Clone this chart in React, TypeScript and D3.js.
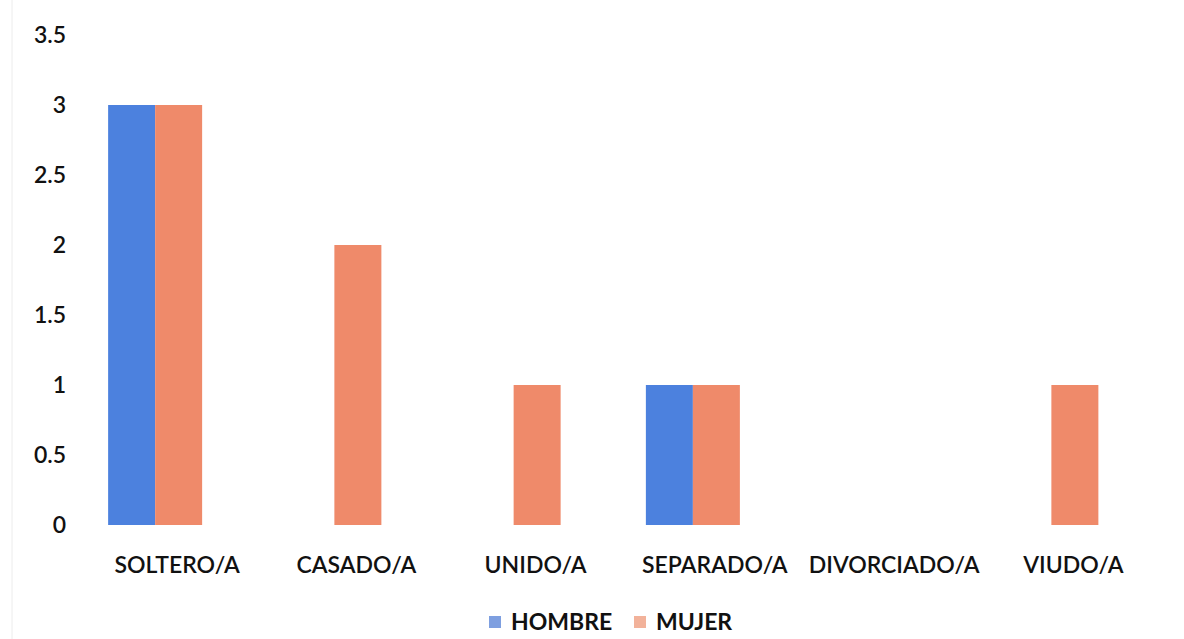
import React from "react";
import * as d3 from "d3";

const categories = ["SOLTERO/A", "CASADO/A", "UNIDO/A", "SEPARADO/A", "DIVORCIADO/A", "VIUDO/A"];
const seriesNames = ["HOMBRE", "MUJER"];
const hombre = [3, 0, 0, 1, 0, 0];
const mujer = [3, 2, 1, 1, 0, 1];
const yTicks = [0, 0.5, 1, 1.5, 2, 2.5, 3, 3.5];

const W = 1184;
const H = 639;
const colors = ["#4c81de", "#ef8a6a"];
const legendColors = ["#7e9fe0", "#f2b29a"];
const FONT = "Lato, 'Open Sans', sans-serif";

export default function App() {
  const x = d3.scaleBand<string>().domain(categories).range([65.5, 1141]).paddingInner(0).paddingOuter(0);
  const inner = d3.scaleBand<string>().domain(seriesNames).range([0, 94]);
  const y = d3.scaleLinear().domain([0, 3.5]).range([525, 35]);
  const series = [hombre, mujer];

  return (
    <svg width={W} height={H} style={{ position: "absolute", left: 0, top: 0, background: "#fff" }}>
      <rect x={0} y={0} width={W} height={H} fill="#ffffff" />
      <line x1={12} x2={12} y1={0} y2={H} stroke="#ececec" strokeWidth={1} />
      {yTicks.map((t) => (
        <text
          key={t}
          x={66}
          y={y(t)}
          dy="0.35em"
          textAnchor="end"
          fontFamily={FONT}
          fontWeight={600}
          fontSize={23}
          fill="#111"
        >
          {t}
        </text>
      ))}
      {categories.map((c, i) => {
        const cx = (x(c) as number) + x.bandwidth() / 2;
        return (
          <g key={c}>
            {series.map((vals, s) => {
              const v = vals[i];
              if (!v) return null;
              const bx = cx - 47 + (inner(seriesNames[s]) as number);
              return (
                <rect
                  key={s}
                  x={bx}
                  y={y(v)}
                  width={inner.bandwidth()}
                  height={y(0) - y(v)}
                  fill={colors[s]}
                />
              );
            })}
            <text
              x={cx + 22}
              y={565}
              dy="0.35em"
              textAnchor="middle"
              fontFamily={FONT}
              fontWeight={600}
              fontSize={23}
              fill="#111"
            >
              {c}
            </text>
          </g>
        );
      })}
      {seriesNames.map((n, s) => {
        const lx = s === 0 ? 489 : 634;
        return (
          <g key={n}>
            <rect x={lx} y={616} width={12} height={12} fill={legendColors[s]} />
            <text
              x={lx + 22}
              y={622}
              dy="0.35em"
              fontFamily={FONT}
              fontWeight={700}
              fontSize={23}
              fill="#111"
            >
              {n}
            </text>
          </g>
        );
      })}
    </svg>
  );
}
